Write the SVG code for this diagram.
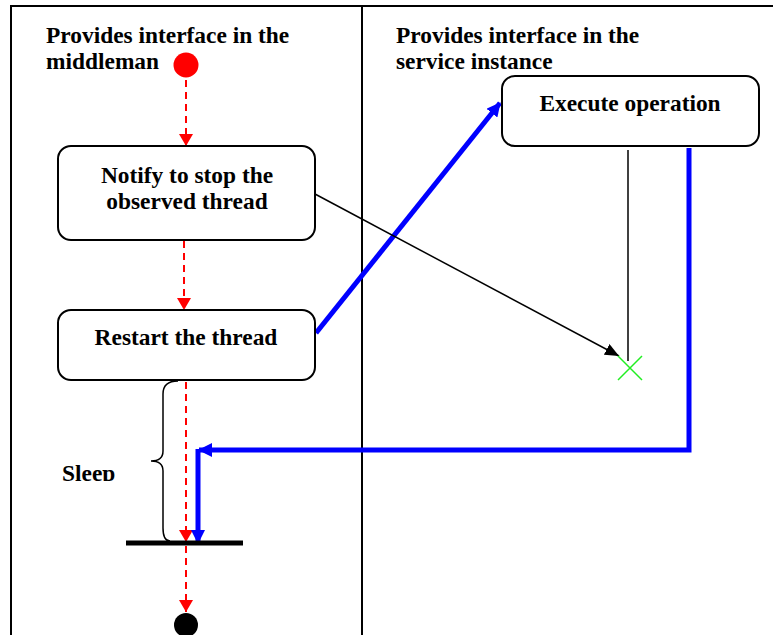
<svg xmlns="http://www.w3.org/2000/svg" width="773" height="635" viewBox="0 0 773 635">
  <defs>
    <style>
      .lbl { font-family: "Liberation Serif", "Times New Roman", serif; font-weight: bold; font-size: 23.4px; fill: #000; }
      .box { fill: #fff; stroke: #000; stroke-width: 2; }
      .flow { stroke: #ff0000; stroke-width: 2; stroke-dasharray: 7 5; fill: none; }
      .call { stroke: #0000ff; stroke-width: 5; fill: none; }
      .thin { stroke: #000; stroke-width: 1.5; fill: none; }
    </style>
    <marker id="redHead" viewBox="0 0 12 14" refX="12" refY="7" markerWidth="12" markerHeight="14" markerUnits="userSpaceOnUse" orient="auto">
      <path d="M0,0 L12,7 L0,14 Z" fill="#ff0000"/>
    </marker>
    <marker id="blueHead" viewBox="0 0 14 14" refX="13" refY="7" markerWidth="14" markerHeight="14" markerUnits="userSpaceOnUse" orient="auto">
      <path d="M0,0 L14,7 L0,14 Z" fill="#0000ff"/>
    </marker>
    <marker id="blackHead" viewBox="0 0 14 12" refX="14" refY="6" markerWidth="14" markerHeight="12" markerUnits="userSpaceOnUse" orient="auto">
      <path d="M0,0 L14,6 L0,12 Z" fill="#000"/>
    </marker>
    <clipPath id="sleepClip">
      <rect x="0" y="0" width="773" height="481"/>
    </clipPath>
  </defs>

  <rect width="773" height="635" fill="#fff"/>

  <!-- swimlane frame -->
  <g id="lanes" stroke="#000" stroke-width="2" fill="none">
    <path d="M11,635 V6 H773"/>
    <line x1="362" y1="6" x2="362" y2="635"/>
  </g>

  <g id="lane-titles">
    <text class="lbl" x="46" y="43">Provides interface in the</text>
    <text class="lbl" x="46" y="69">middleman</text>
    <text class="lbl" x="396" y="43">Provides interface in the</text>
    <text class="lbl" x="396" y="69">service instance</text>
  </g>

  <!-- connectors -->
  <g id="connectors">
    <line class="flow" x1="186" y1="80" x2="186" y2="146" marker-end="url(#redHead)"/>
    <line class="flow" x1="184" y1="241" x2="184" y2="310" marker-end="url(#redHead)"/>
    <line class="flow" x1="186" y1="382" x2="186" y2="542" marker-end="url(#redHead)"/>
    <line class="flow" x1="186" y1="546" x2="186" y2="612" marker-end="url(#redHead)"/>
    <line class="call" x1="316" y1="333" x2="500" y2="103" marker-end="url(#blueHead)"/>
    <path class="call" d="M689,148 V450 H199" marker-end="url(#blueHead)"/>
    <line class="call" x1="198" y1="449" x2="198" y2="543" marker-end="url(#blueHead)"/>
    <line class="thin" x1="315" y1="194" x2="619" y2="356" marker-end="url(#blackHead)"/>
    <line class="thin" x1="628" y1="150" x2="628" y2="361"/>
  </g>

  <g id="start">
    <circle cx="186" cy="65" r="12.5" fill="#ff0000"/>
  </g>

  <g id="notify">
    <rect class="box" x="58" y="146" width="257" height="94" rx="13"/>
    <text class="lbl" x="187" y="183" text-anchor="middle">Notify to stop the</text>
    <text class="lbl" x="187" y="209" text-anchor="middle">observed thread</text>
  </g>

  <g id="restart">
    <rect class="box" x="58" y="310" width="257" height="70" rx="13"/>
    <text class="lbl" x="186" y="345" text-anchor="middle">Restart the thread</text>
  </g>

  <g id="execute">
    <rect class="box" x="502" y="76" width="257" height="70" rx="13"/>
    <text class="lbl" x="630" y="111" text-anchor="middle">Execute operation</text>
  </g>

  <g id="sleep">
    <path class="thin" d="M178,381 Q163,381 163,394 V451 Q163,461 151,461 Q163,461 163,471 V528 Q163,541 170,541"/>
    <text class="lbl" x="62" y="481" clip-path="url(#sleepClip)">Sleep</text>
  </g>

  <g id="join">
    <line x1="126" y1="543" x2="243" y2="543" stroke="#000" stroke-width="5"/>
  </g>

  <g id="terminate">
    <path d="M618,356 L642,380 M642,356 L618,380" stroke="#22ee22" stroke-width="1.5" fill="none"/>
  </g>

  <g id="end">
    <circle cx="186" cy="625" r="12" fill="#000"/>
  </g>
</svg>
